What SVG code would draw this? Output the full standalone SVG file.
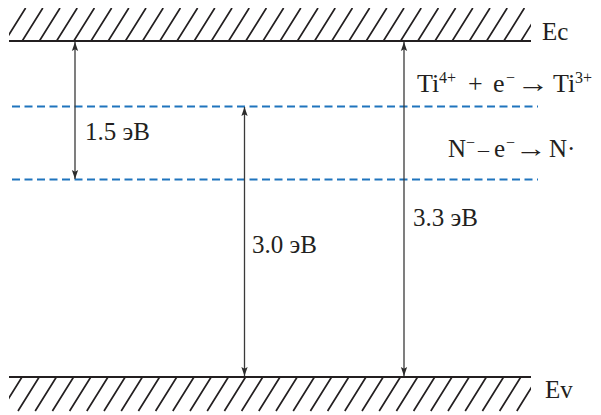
<svg xmlns="http://www.w3.org/2000/svg" width="601" height="415" viewBox="0 0 601 415">
<defs>
<clipPath id="clipTop"><rect x="9" y="8" width="522" height="33"/></clipPath>
<clipPath id="clipBot"><rect x="9" y="377" width="522" height="35"/></clipPath>
<marker id="ah" viewBox="0 0 10 10" refX="10" refY="5" markerWidth="9" markerHeight="9" markerUnits="userSpaceOnUse" orient="auto-start-reverse">
<path d="M0,1.5 L10,5 L0,8.5 L2,5 Z" fill="#2b2b2b"/>
</marker>
</defs>
<style>
.band{stroke:#231f20;stroke-width:2;fill:none}
.hatch{stroke:#231f20;stroke-width:1.7;fill:none}
.level{stroke:#1f74bd;stroke-width:2;stroke-dasharray:8 4.5;fill:none}
.arrow{stroke:#3a3a3a;stroke-width:1.3;fill:none;marker-start:url(#ah);marker-end:url(#ah)}
text{font-family:"Liberation Serif","Times New Roman",serif;font-size:25px;fill:#231f20}
.rx{font-size:26px}
.sup{font-size:16px}
.dash{font-size:22px}
</style>
<rect width="601" height="415" fill="#ffffff"/>
<g id="Ec-band">
<g clip-path="url(#clipTop)">
<path class="hatch" d="M5,41 L25.6,8 M22.2,41 L42.8,8 M39.4,41 L60,8 M56.6,41 L77.2,8 M73.8,41 L94.4,8 M91,41 L111.6,8 M108.2,41 L128.8,8 M125.4,41 L146,8 M142.6,41 L163.2,8 M159.8,41 L180.4,8 M177,41 L197.6,8 M194.2,41 L214.8,8 M211.4,41 L232,8 M228.6,41 L249.2,8 M245.8,41 L266.4,8 M263,41 L283.6,8 M280.2,41 L300.8,8 M297.4,41 L318,8 M314.6,41 L335.2,8 M331.8,41 L352.4,8 M349,41 L369.6,8 M366.2,41 L386.8,8 M383.4,41 L404,8 M400.6,41 L421.2,8 M417.8,41 L438.4,8 M435,41 L455.6,8 M452.2,41 L472.8,8 M469.4,41 L490,8 M486.6,41 L507.2,8 M503.8,41 L524.4,8 M521,41 L541.6,8"/>
</g>
<line class="band" x1="9" y1="41" x2="531" y2="41"/>
<text x="542" y="40">Ec</text>
</g>
<g id="Ev-band">
<g clip-path="url(#clipBot)">
<path class="hatch" d="M22,377 L0.8,411 M39.2,377 L18,411 M56.4,377 L35.2,411 M73.6,377 L52.4,411 M90.8,377 L69.6,411 M108,377 L86.8,411 M125.2,377 L104,411 M142.4,377 L121.2,411 M159.6,377 L138.4,411 M176.8,377 L155.6,411 M194,377 L172.8,411 M211.2,377 L190,411 M228.4,377 L207.2,411 M245.6,377 L224.4,411 M262.8,377 L241.6,411 M280,377 L258.8,411 M297.2,377 L276,411 M314.4,377 L293.2,411 M331.6,377 L310.4,411 M348.8,377 L327.6,411 M366,377 L344.8,411 M383.2,377 L362,411 M400.4,377 L379.2,411 M417.6,377 L396.4,411 M434.8,377 L413.6,411 M452,377 L430.8,411 M469.2,377 L448,411 M486.4,377 L465.2,411 M503.6,377 L482.4,411 M520.8,377 L499.6,411 M538,377 L516.8,411 M555.2,377 L534,411"/>
</g>
<line class="band" x1="9" y1="377" x2="531" y2="377"/>
<text x="545" y="398">Ev</text>
</g>
<g id="level-Ti">
<line class="level" x1="12" y1="106.5" x2="538" y2="106.5"/>
<text class="rx" y="92"><tspan x="417">Ti</tspan><tspan class="sup" x="439" y="83">4+</tspan><tspan x="468" y="92">+</tspan><tspan x="493">e</tspan><tspan class="sup" x="506" y="83">−</tspan><tspan x="553" y="92">Ti</tspan><tspan class="sup" x="575" y="83">3+</tspan></text>
<text class="rx" transform="translate(517,92) scale(1.25,1)">→</text>
</g>
<g id="level-N">
<line class="level" x1="12" y1="179.5" x2="538" y2="179.5"/>
<text y="157"><tspan x="448">N</tspan><tspan class="sup" x="466" y="148">−</tspan><tspan class="dash" x="478" y="157">–</tspan><tspan x="494">e</tspan><tspan class="sup" x="506" y="148">−</tspan><tspan x="549" y="157">N·</tspan></text>
<text transform="translate(515,157) scale(1.28,1)">→</text>
</g>
<g id="connectors">
<line class="arrow" x1="75" y1="42" x2="75" y2="179"/>
<line class="arrow" x1="244.5" y1="107" x2="244.5" y2="376"/>
<line class="arrow" x1="404" y1="42" x2="404" y2="376"/>
</g>
<g id="labels">
<text x="85" y="140">1.5 эВ</text>
<text x="252" y="253">3.0 эВ</text>
<text x="413" y="226">3.3 эВ</text>
</g>
</svg>
